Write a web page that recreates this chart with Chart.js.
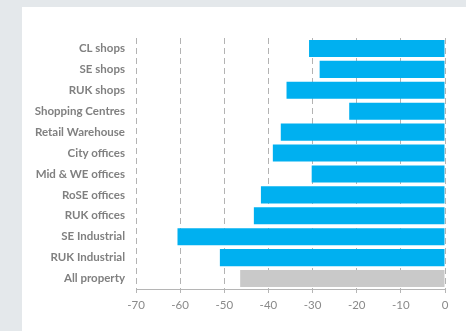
<!DOCTYPE html>
<html>
<head>
<meta charset="utf-8">
<script src="https://cdn.jsdelivr.net/npm/chart.js@4"></script>
<style>
  html, body { margin: 0; padding: 0; background: #e4e8eb; }
  #wrap { position: absolute; left: 22px; top: 7px; width: 444px; height: 324px; background: #fff; }
</style>
</head>
<body>
<div id="wrap"><canvas id="chart" width="444" height="324"></canvas></div>
<script>
// sectors, top to bottom
const sectors = [
  'CL shops', 'SE shops', 'RUK shops', 'Shopping Centres', 'Retail Warehouse',
  'City offices', 'Mid & WE offices', 'RoSE offices', 'RUK offices',
  'SE Industrial', 'RUK Industrial', 'All property'
];
const change = [-30.8, -28.4, -35.9, -21.7, -37.2, -39.0, -30.2, -41.7, -43.3, -60.6, -51.0, -46.4];
const xTicks = [-70, -60, -50, -40, -30, -20, -10, 0];

const barColors = sectors.map(s => s === 'All property' ? '#c9c9c9' : '#00b0f0');

new Chart(document.getElementById('chart'), {
  type: 'bar',
  data: {
    labels: sectors,
    datasets: [{
      data: change,
      backgroundColor: barColors,
      borderWidth: 0,
      categoryPercentage: 1,
      barPercentage: 0.82
    }]
  },
  options: {
    indexAxis: 'y',
    responsive: false,
    animation: false,
    layout: { padding: { top: 31, right: 21, bottom: 0, left: 0 } },
    plugins: { legend: { display: false }, tooltip: { enabled: false } },
    scales: {
      x: {
        min: -70, max: 0,
        afterBuildTicks: s => { s.ticks = xTicks.map(v => ({ value: v })); },
        afterFit: s => { s.height = 42; },
        // dash applies to the grid lines; the axis line stays solid
        border: { display: true, color: '#b5b5b5', width: 1, dash: [6, 4] },
        grid: {
          color: '#b3b3b3',
          lineWidth: 1,
          tickLength: 4,
          tickColor: '#b5b5b5',
          tickBorderDash: []
        },
        ticks: {
          color: '#8a8a8a',
          padding: 5,
          font: { family: 'Lato', size: 11.5 }
        }
      },
      y: {
        afterFit: s => { s.width = 114; },
        border: { display: false },
        grid: { display: false, drawTicks: false },
        ticks: {
          color: '#808080',
          padding: 11,
          font: { family: 'Lato', size: 11.5, weight: 'bold' }
        }
      }
    }
  }
});
</script>
</body>
</html>
